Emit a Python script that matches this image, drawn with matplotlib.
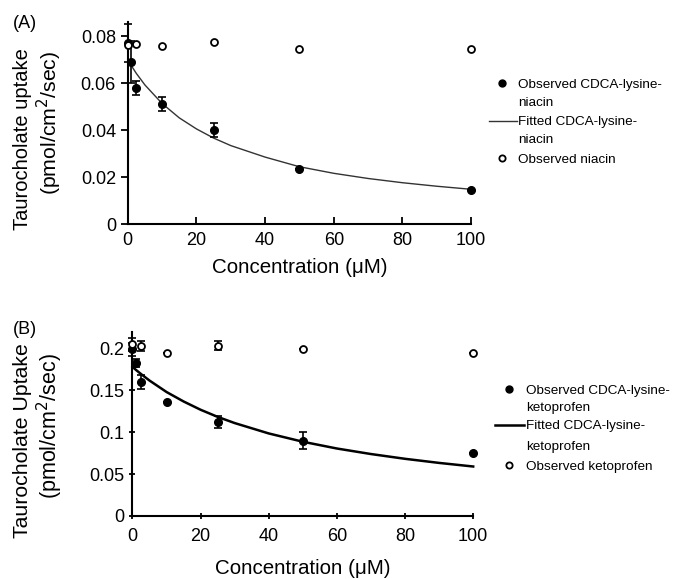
import matplotlib.pyplot as plt
from matplotlib.lines import Line2D

plt.rcParams["font.family"] = ["Liberation Sans", "DejaVu Sans"]

# (A) CDCA-lysine-niacin
conc_a = [0, 1, 2.5, 10, 25, 50, 100]
obs_a = [0.077, 0.069, 0.058, 0.051, 0.040, 0.0235, 0.0143]
err_a = [0.008, 0.009, 0.003, 0.003, 0.003, 0.0, 0.0]
niacin_x = [0, 2.5, 10, 25, 50, 100]
niacin_y = [0.076, 0.0765, 0.0757, 0.0775, 0.0745, 0.0747]
fit_x = [0, 1, 2.5, 5, 10, 15, 20, 25, 30, 40, 50, 60, 70, 80, 90, 100]
fit_a = [0.070, 0.0675, 0.0641, 0.0592, 0.0513, 0.0452, 0.0405, 0.0366,
         0.0334, 0.0285, 0.0244, 0.0216, 0.0194, 0.0176, 0.0161, 0.0148]

# (B) CDCA-lysine-ketoprofen
conc_b = [0, 1, 2.5, 10, 25, 50, 100]
obs_b = [0.199, 0.183, 0.160, 0.136, 0.1126, 0.090, 0.075]
err_b = [0.008, 0.005, 0.008, 0.0, 0.007, 0.010, 0.0]
keto_x = [0, 2.5, 10, 25, 50, 100]
keto_y = [0.205, 0.2035, 0.195, 0.2035, 0.200, 0.195]
keto_err = [0.008, 0.006, 0.0, 0.005, 0.0, 0.0]
fit_b = [0.178, 0.1745, 0.1695, 0.1617, 0.148, 0.1367, 0.1268, 0.1183,
         0.1109, 0.0985, 0.0886, 0.0805, 0.0739, 0.0682, 0.0633, 0.059]

W, H = 676, 579
fig = plt.figure(figsize=(W / 100, H / 100), dpi=100)
ax1 = fig.add_axes([0.189, 0.613, 0.508, 0.349])
ax2 = fig.add_axes([0.196, 0.109, 0.504, 0.318])


def fx(px):
    return px / W


def fy(py):
    return 1 - py / H


def panel(ax, x, y, err, ox, oy, oerr, fitx, fity, fit_lw, fit_col, ylim,
          yticks, tickdir, xlabelpad):
    ax.errorbar(x, y, yerr=err, fmt="none", ecolor="black", capsize=3,
                elinewidth=1.2, capthick=1.2, clip_on=False, zorder=4)
    ax.plot(x, y, "o", color="black", ms=5.5, clip_on=False, zorder=4)
    ax.plot(fitx, fity, color=fit_col, lw=fit_lw, clip_on=False, zorder=3)
    if oerr is not None:
        ax.errorbar(ox, oy, yerr=oerr, fmt="none", ecolor="black", capsize=3,
                    elinewidth=1.2, capthick=1.2, clip_on=False, zorder=5)
    ax.plot(ox, oy, "o", mfc="white", mec="black", ms=5, mew=1.3,
            clip_on=False, zorder=5)
    ax.set_xlim(0, 100)
    ax.set_ylim(*ylim)
    ax.set_xticks([0, 20, 40, 60, 80, 100])
    ax.set_yticks(yticks)
    ax.set_yticklabels([("%g" % t) for t in yticks])
    ax.spines["top"].set_visible(False)
    ax.spines["right"].set_visible(False)
    for s in ["left", "bottom"]:
        ax.spines[s].set_linewidth(1.5)
    ax.tick_params(axis="x", direction=tickdir[0], length=5, width=1.3,
                   labelsize=13, pad=6)
    ax.tick_params(axis="y", direction=tickdir[1], length=5, width=1.3,
                   labelsize=13)
    ax.set_xlabel("Concentration (μM)", fontsize=14.8, labelpad=xlabelpad)


def legend(names, fit_lw, fit_col, mx, lx0, lx1, tx, rows):
    # rows: y pixel of each text line (5 lines)
    fig.add_artist(Line2D([fx(mx)], [fy(rows[0] - 2)], ls="none", marker="o",
                          color="black", ms=5))
    fig.add_artist(Line2D([fx(lx0), fx(lx1)], [fy(rows[2] - 1)] * 2,
                          color=fit_col, lw=fit_lw))
    fig.add_artist(Line2D([fx(mx)], [fy(rows[4] - 2)], ls="none", marker="o",
                          mfc="white", mec="black", ms=4.5, mew=1.3))
    for name, r in zip(names, rows):
        fig.text(fx(tx), fy(r), name, fontsize=9.7, va="center", ha="left")


panel(ax1, conc_a, obs_a, err_a, niacin_x, niacin_y, None, fit_x, fit_a,
      1.0, "#333333", (0, 0.086), [0, 0.02, 0.04, 0.06, 0.08],
      ("in", "out"), 6)
panel(ax2, conc_b, obs_b, err_b, keto_x, keto_y, keto_err, fit_x, fit_b,
      1.8, "black", (0, 0.22), [0, 0.05, 0.1, 0.15, 0.2],
      ("inout", "inout"), 10)

# y labels (two lines, placed like the original)
fig.text(fx(22.5), fy(139), "Taurocholate uptake", rotation=90,
         fontsize=14.5, ha="center", va="center")
fig.text(fx(49), fy(123), "(pmol/cm$^2$/sec)", rotation=90,
         fontsize=15.3, ha="center", va="center")
fig.text(fx(22.5), fy(441), "Taurocholate Uptake", rotation=90,
         fontsize=15.3, ha="center", va="center")
fig.text(fx(49.5), fy(426), "(pmol/cm$^2$/sec)", rotation=90,
         fontsize=15.5, ha="center", va="center")

legend(["Observed CDCA-lysine-", "niacin", "Fitted CDCA-lysine-", "niacin",
        "Observed niacin"], 1.0, "#333333", 502, 489, 517, 518,
       [85, 103, 122, 140, 160])
legend(["Observed CDCA-lysine-", "ketoprofen", "Fitted CDCA-lysine-",
        "ketoprofen", "Observed ketoprofen"], 1.8, "black", 509, 495, 524,
       526, [391, 408, 426, 447, 467])

fig.text(fx(13), fy(24), "(A)", fontsize=13, va="center")
fig.text(fx(13), fy(329), "(B)", fontsize=13, va="center")

fig.savefig("out.png", dpi=100)
